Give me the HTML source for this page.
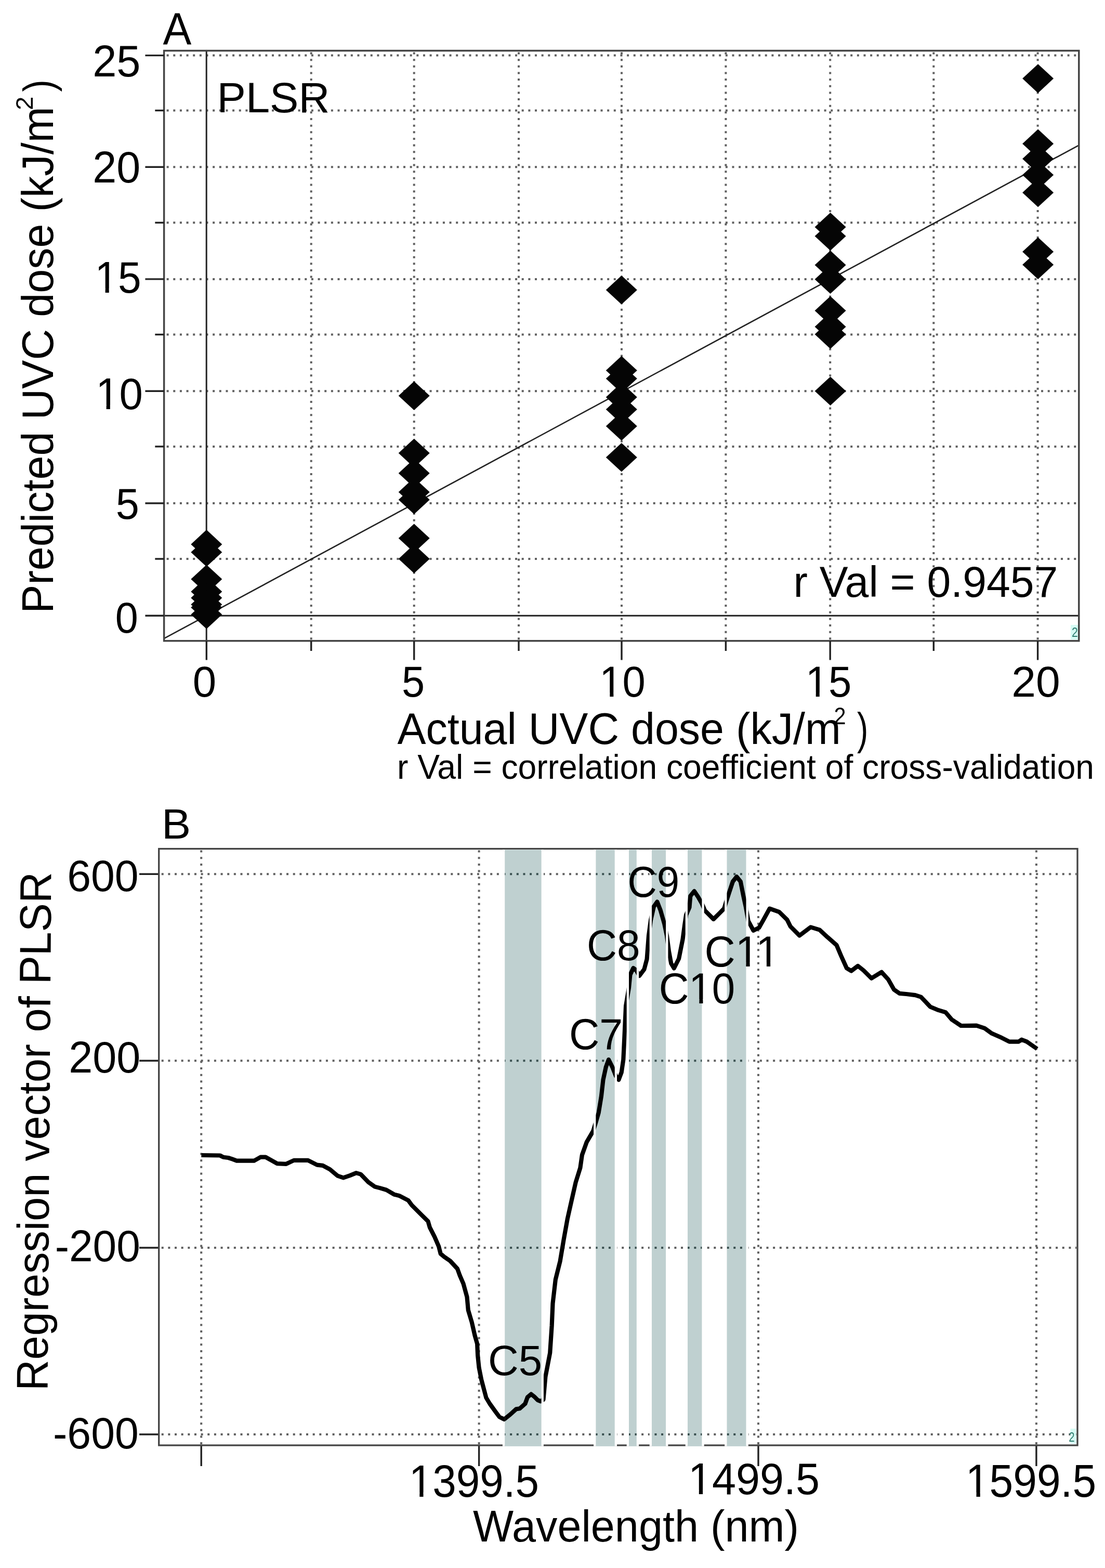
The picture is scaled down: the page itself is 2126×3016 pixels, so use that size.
<!DOCTYPE html>
<html><head><meta charset="utf-8"><title>PLSR figure</title>
<style>html,body{margin:0;padding:0;background:#fff;}svg{display:block;}text{font-family:'Liberation Sans', Arial, Helvetica, sans-serif;}</style>
</head><body>
<svg width="2126" height="3016" viewBox="0 0 2126 3016">
<rect width="2126" height="3016" fill="#fff"/>
<line x1="320.6" y1="1075.0" x2="2073.8" y2="1075.0" stroke="#606060" stroke-width="4" stroke-dasharray="4 8.65"/>
<line x1="320.6" y1="968.0" x2="2073.8" y2="968.0" stroke="#606060" stroke-width="4" stroke-dasharray="4 8.65"/>
<line x1="320.6" y1="858.9" x2="2073.8" y2="858.9" stroke="#606060" stroke-width="4" stroke-dasharray="4 8.65"/>
<line x1="320.6" y1="752.3" x2="2073.8" y2="752.3" stroke="#606060" stroke-width="4" stroke-dasharray="4 8.65"/>
<line x1="320.6" y1="643.5" x2="2073.8" y2="643.5" stroke="#606060" stroke-width="4" stroke-dasharray="4 8.65"/>
<line x1="320.6" y1="536.9" x2="2073.8" y2="536.9" stroke="#606060" stroke-width="4" stroke-dasharray="4 8.65"/>
<line x1="320.6" y1="428.3" x2="2073.8" y2="428.3" stroke="#606060" stroke-width="4" stroke-dasharray="4 8.65"/>
<line x1="320.6" y1="321.3" x2="2073.8" y2="321.3" stroke="#606060" stroke-width="4" stroke-dasharray="4 8.65"/>
<line x1="320.6" y1="212.5" x2="2073.8" y2="212.5" stroke="#606060" stroke-width="4" stroke-dasharray="4 8.65"/>
<line x1="320.6" y1="106.6" x2="2073.8" y2="106.6" stroke="#606060" stroke-width="4" stroke-dasharray="4 8.65"/>
<line x1="598.7" y1="100.5" x2="598.7" y2="1230.7" stroke="#606060" stroke-width="4" stroke-dasharray="4 8.65"/>
<line x1="796.7" y1="100.5" x2="796.7" y2="1230.7" stroke="#606060" stroke-width="4" stroke-dasharray="4 8.65"/>
<line x1="998.0" y1="100.5" x2="998.0" y2="1230.7" stroke="#606060" stroke-width="4" stroke-dasharray="4 8.65"/>
<line x1="1196.0" y1="100.5" x2="1196.0" y2="1230.7" stroke="#606060" stroke-width="4" stroke-dasharray="4 8.65"/>
<line x1="1396.4" y1="100.5" x2="1396.4" y2="1230.7" stroke="#606060" stroke-width="4" stroke-dasharray="4 8.65"/>
<line x1="1597.2" y1="100.5" x2="1597.2" y2="1230.7" stroke="#606060" stroke-width="4" stroke-dasharray="4 8.65"/>
<line x1="1796.3" y1="100.5" x2="1796.3" y2="1230.7" stroke="#606060" stroke-width="4" stroke-dasharray="4 8.65"/>
<line x1="1996.6" y1="100.5" x2="1996.6" y2="1230.7" stroke="#606060" stroke-width="4" stroke-dasharray="4 8.65"/>
<line x1="315.6" y1="1184.2" x2="2075.8" y2="1184.2" stroke="#222" stroke-width="3"/>
<line x1="397.2" y1="97.5" x2="397.2" y2="1232.7" stroke="#222" stroke-width="3"/>
<line x1="315.6" y1="1228.2" x2="2075.8" y2="279.3" stroke="#222" stroke-width="2.6"/>
<rect x="315.6" y="97.5" width="1760.2000000000003" height="1135.2" fill="none" stroke="#444" stroke-width="3.5"/>
<line x1="279.4" y1="1184.2" x2="315.6" y2="1184.2" stroke="#222" stroke-width="3.4"/>
<line x1="298.3" y1="1075.0" x2="315.6" y2="1075.0" stroke="#222" stroke-width="3.4"/>
<line x1="279.4" y1="968.0" x2="315.6" y2="968.0" stroke="#222" stroke-width="3.4"/>
<line x1="298.3" y1="858.9" x2="315.6" y2="858.9" stroke="#222" stroke-width="3.4"/>
<line x1="279.4" y1="752.3" x2="315.6" y2="752.3" stroke="#222" stroke-width="3.4"/>
<line x1="298.3" y1="643.5" x2="315.6" y2="643.5" stroke="#222" stroke-width="3.4"/>
<line x1="279.4" y1="536.9" x2="315.6" y2="536.9" stroke="#222" stroke-width="3.4"/>
<line x1="298.3" y1="428.3" x2="315.6" y2="428.3" stroke="#222" stroke-width="3.4"/>
<line x1="279.4" y1="321.3" x2="315.6" y2="321.3" stroke="#222" stroke-width="3.4"/>
<line x1="298.3" y1="212.5" x2="315.6" y2="212.5" stroke="#222" stroke-width="3.4"/>
<line x1="279.4" y1="106.6" x2="315.6" y2="106.6" stroke="#222" stroke-width="3.4"/>
<line x1="397.3" y1="1232.7" x2="397.3" y2="1269.5" stroke="#222" stroke-width="3.4"/>
<line x1="598.7" y1="1232.7" x2="598.7" y2="1252" stroke="#222" stroke-width="3.4"/>
<line x1="796.7" y1="1232.7" x2="796.7" y2="1269.5" stroke="#222" stroke-width="3.4"/>
<line x1="998.0" y1="1232.7" x2="998.0" y2="1252" stroke="#222" stroke-width="3.4"/>
<line x1="1196.0" y1="1232.7" x2="1196.0" y2="1269.5" stroke="#222" stroke-width="3.4"/>
<line x1="1396.4" y1="1232.7" x2="1396.4" y2="1252" stroke="#222" stroke-width="3.4"/>
<line x1="1597.2" y1="1232.7" x2="1597.2" y2="1269.5" stroke="#222" stroke-width="3.4"/>
<line x1="1796.3" y1="1232.7" x2="1796.3" y2="1252" stroke="#222" stroke-width="3.4"/>
<line x1="1996.6" y1="1232.7" x2="1996.6" y2="1269.5" stroke="#222" stroke-width="3.4"/>
<path d="M397.3 1019.1L427.3 1046.9L397.3 1074.7L367.3 1046.9Z" fill="#050505"/>
<path d="M397.3 1034.5L427.3 1062.3L397.3 1090.1L367.3 1062.3Z" fill="#050505"/>
<path d="M397.3 1086.2L427.3 1114.0L397.3 1141.8L367.3 1114.0Z" fill="#050505"/>
<path d="M397.3 1110.1L427.3 1137.9L397.3 1165.7L367.3 1137.9Z" fill="#050505"/>
<path d="M397.3 1122.1L427.3 1149.9L397.3 1177.7L367.3 1149.9Z" fill="#050505"/>
<path d="M397.3 1135.0L427.3 1162.8L397.3 1190.6L367.3 1162.8Z" fill="#050505"/>
<path d="M397.3 1140.8L427.3 1168.6L397.3 1196.4L367.3 1168.6Z" fill="#050505"/>
<path d="M397.3 1154.2L427.3 1182.0L397.3 1209.8L367.3 1182.0Z" fill="#050505"/>
<path d="M796.7 733.5L826.7 761.3L796.7 789.1L766.7 761.3Z" fill="#050505"/>
<path d="M796.7 843.8L826.7 871.6L796.7 899.4L766.7 871.6Z" fill="#050505"/>
<path d="M796.7 882.4L826.7 910.2L796.7 938.0L766.7 910.2Z" fill="#050505"/>
<path d="M796.7 918.7L826.7 946.5L796.7 974.3L766.7 946.5Z" fill="#050505"/>
<path d="M796.7 933.5L826.7 961.3L796.7 989.1L766.7 961.3Z" fill="#050505"/>
<path d="M796.7 1007.5L826.7 1035.3L796.7 1063.1L766.7 1035.3Z" fill="#050505"/>
<path d="M796.7 1047.1L826.7 1074.9L796.7 1102.7L766.7 1074.9Z" fill="#050505"/>
<path d="M1195.8 530.0L1225.8 557.8L1195.8 585.6L1165.8 557.8Z" fill="#050505"/>
<path d="M1195.8 684.7L1225.8 712.5L1195.8 740.3L1165.8 712.5Z" fill="#050505"/>
<path d="M1195.8 700.4L1225.8 728.2L1195.8 756.0L1165.8 728.2Z" fill="#050505"/>
<path d="M1195.8 736.1L1225.8 763.9L1195.8 791.7L1165.8 763.9Z" fill="#050505"/>
<path d="M1195.8 759.6L1225.8 787.4L1195.8 815.2L1165.8 787.4Z" fill="#050505"/>
<path d="M1195.8 791.9L1225.8 819.7L1195.8 847.5L1165.8 819.7Z" fill="#050505"/>
<path d="M1195.8 852.0L1225.8 879.8L1195.8 907.6L1165.8 879.8Z" fill="#050505"/>
<path d="M1597.6 408.9L1627.6 436.7L1597.6 464.5L1567.6 436.7Z" fill="#050505"/>
<path d="M1597.6 426.5L1627.6 454.3L1597.6 482.1L1567.6 454.3Z" fill="#050505"/>
<path d="M1597.6 482.0L1627.6 509.8L1597.6 537.6L1567.6 509.8Z" fill="#050505"/>
<path d="M1597.6 509.4L1627.6 537.2L1597.6 565.0L1567.6 537.2Z" fill="#050505"/>
<path d="M1597.6 569.8L1627.6 597.6L1597.6 625.4L1567.6 597.6Z" fill="#050505"/>
<path d="M1597.6 600.6L1627.6 628.4L1597.6 656.2L1567.6 628.4Z" fill="#050505"/>
<path d="M1597.6 615.3L1627.6 643.1L1597.6 670.9L1567.6 643.1Z" fill="#050505"/>
<path d="M1597.6 724.4L1627.6 752.2L1597.6 780.0L1567.6 752.2Z" fill="#050505"/>
<path d="M1997.1 123.3L2027.1 151.1L1997.1 178.9L1967.1 151.1Z" fill="#050505"/>
<path d="M1997.1 248.6L2027.1 276.4L1997.1 304.2L1967.1 276.4Z" fill="#050505"/>
<path d="M1997.1 277.6L2027.1 305.4L1997.1 333.2L1967.1 305.4Z" fill="#050505"/>
<path d="M1997.1 308.7L2027.1 336.5L1997.1 364.3L1967.1 336.5Z" fill="#050505"/>
<path d="M1997.1 342.7L2027.1 370.5L1997.1 398.3L1967.1 370.5Z" fill="#050505"/>
<path d="M1997.1 456.4L2027.1 484.2L1997.1 512.0L1967.1 484.2Z" fill="#050505"/>
<path d="M1997.1 481.4L2027.1 509.2L1997.1 537.0L1967.1 509.2Z" fill="#050505"/>
<text transform="translate(313.59,86.45) scale(0.9348,1)" font-size="87.94" fill="#000"  >A</text>
<text transform="translate(178.20,147.20) scale(0.9805,1)" font-size="84.60" fill="#000"  >25</text>
<text transform="translate(178.21,351.10) scale(0.9777,1)" font-size="84.60" fill="#000"  >20</text>
<mask id="m1_1" maskUnits="userSpaceOnUse" x="-20" y="-111.6" width="135.5" height="145.9"><rect x="-20" y="-111.6" width="135.5" height="145.9" fill="#fff"/><rect x="4.29" y="-7.61" width="17.29" height="9.91" fill="#000"/><rect x="29.16" y="-7.61" width="16.31" height="9.91" fill="#000"/></mask>
<text transform="translate(182.45,562.69) scale(0.9346,1)" font-size="85.82" fill="#000"  mask="url(#m1_1)">15</text>
<mask id="m1_2" maskUnits="userSpaceOnUse" x="-20" y="-111.6" width="135.5" height="146.0"><rect x="-20" y="-111.6" width="135.5" height="146.0" fill="#fff"/><rect x="4.29" y="-7.62" width="17.30" height="9.92" fill="#000"/><rect x="29.18" y="-7.62" width="16.32" height="9.92" fill="#000"/></mask>
<text transform="translate(184.13,786.59) scale(0.9490,1)" font-size="85.88" fill="#000"  mask="url(#m1_2)">10</text>
<text transform="translate(222.81,998.41) scale(0.9671,1)" font-size="83.81" fill="#000"  >5</text>
<text transform="translate(221.76,1217.22) scale(0.9527,1)" font-size="83.05" fill="#000"  >0</text>
<text transform="translate(370.67,1339.61) scale(0.9713,1)" font-size="84.04" fill="#000"  >0</text>
<text transform="translate(772.88,1339.62) scale(0.9535,1)" font-size="83.24" fill="#000"  >5</text>
<mask id="m1_3" maskUnits="userSpaceOnUse" x="-20" y="-107.8" width="132.2" height="140.9"><rect x="-20" y="-107.8" width="132.2" height="140.9" fill="#fff"/><rect x="4.15" y="-7.39" width="16.71" height="9.69" fill="#000"/><rect x="28.17" y="-7.39" width="15.75" height="9.69" fill="#000"/></mask>
<text transform="translate(1153.31,1340.12) scale(0.9595,1)" font-size="82.91" fill="#000"  mask="url(#m1_3)">10</text>
<mask id="m1_4" maskUnits="userSpaceOnUse" x="-20" y="-109.3" width="133.5" height="143.0"><rect x="-20" y="-109.3" width="133.5" height="143.0" fill="#fff"/><rect x="4.21" y="-7.48" width="16.95" height="9.78" fill="#000"/><rect x="28.58" y="-7.48" width="15.98" height="9.78" fill="#000"/></mask>
<text transform="translate(1549.70,1340.11) scale(0.9476,1)" font-size="84.10" fill="#000"  mask="url(#m1_4)">15</text>
<text transform="translate(1946.25,1340.12) scale(1.0130,1)" font-size="82.91" fill="#000"  >20</text>
<text transform="translate(417.54,216.43) scale(1.0168,1)" font-size="81.64" fill="#000"  >PLSR</text>
<text transform="translate(1526.52,1148.40) scale(0.9767,1)" font-size="84.3" fill="#000" >r Val = 0.9457</text>
<text transform="translate(764.38,1430.80) scale(0.9657,1)" font-size="85.5" fill="#000" >Actual UVC dose (kJ/m</text>
<text transform="translate(1604.48,1393.05) scale(0.8820,1)" font-size="46.99" fill="#000"  >2</text>
<text transform="translate(1648.93,1430.80) scale(0.7475,1)" font-size="85.5" fill="#000" >)</text>
<text transform="translate(764.11,1498.30) scale(0.9683,1)" font-size="66.3" fill="#000" >r Val = correlation coefficient of cross-validation</text>
<text transform="translate(102.40,1179.83) rotate(-90) scale(0.9709,1)" font-size="85.2" fill="#000">Predicted UVC dose (kJ/m</text>
<text transform="translate(62.75,212.12) rotate(-90) scale(1.0397,1)" font-size="45.56" fill="#000">2</text>
<text transform="translate(102.43,176.81) rotate(-90) scale(0.8794,1)" font-size="80.79" fill="#000">)</text>
<rect x="2060" y="1202" width="14" height="28" fill="#d6fbf4"/>
<text transform="translate(2061.89,1225.15) scale(0.8114,1)" font-size="26.22" fill="#2f7d70"  >2</text>
<line x1="310.7" y1="1681.2" x2="2071.0" y2="1681.2" stroke="#606060" stroke-width="4" stroke-dasharray="4 8.65"/>
<line x1="268" y1="1681.2" x2="305.7" y2="1681.2" stroke="#222" stroke-width="3.4"/>
<line x1="310.7" y1="2040.2" x2="2071.0" y2="2040.2" stroke="#606060" stroke-width="4" stroke-dasharray="4 8.65"/>
<line x1="268" y1="2040.2" x2="305.7" y2="2040.2" stroke="#222" stroke-width="3.4"/>
<line x1="310.7" y1="2400.0" x2="2071.0" y2="2400.0" stroke="#606060" stroke-width="4" stroke-dasharray="4 8.65"/>
<line x1="268" y1="2400.0" x2="305.7" y2="2400.0" stroke="#222" stroke-width="3.4"/>
<line x1="310.7" y1="2759.0" x2="2071.0" y2="2759.0" stroke="#606060" stroke-width="4" stroke-dasharray="4 8.65"/>
<line x1="268" y1="2759.0" x2="305.7" y2="2759.0" stroke="#222" stroke-width="3.4"/>
<line x1="387.2" y1="1635.6" x2="387.2" y2="2778.0" stroke="#606060" stroke-width="4" stroke-dasharray="4 8.65"/>
<line x1="387.2" y1="2780.0" x2="387.2" y2="2820" stroke="#222" stroke-width="3.4"/>
<line x1="921.6" y1="1635.6" x2="921.6" y2="2778.0" stroke="#606060" stroke-width="4" stroke-dasharray="4 8.65"/>
<line x1="921.6" y1="2780.0" x2="921.6" y2="2820" stroke="#222" stroke-width="3.4"/>
<line x1="1459.0" y1="1635.6" x2="1459.0" y2="2778.0" stroke="#606060" stroke-width="4" stroke-dasharray="4 8.65"/>
<line x1="1459.0" y1="2780.0" x2="1459.0" y2="2820" stroke="#222" stroke-width="3.4"/>
<line x1="1993.9" y1="1635.6" x2="1993.9" y2="2778.0" stroke="#606060" stroke-width="4" stroke-dasharray="4 8.65"/>
<line x1="1993.9" y1="2780.0" x2="1993.9" y2="2820" stroke="#222" stroke-width="3.4"/>
<rect x="305.7" y="1632.6" width="1767.3" height="1147.4" fill="none" stroke="#444" stroke-width="3.3"/>
<defs><clipPath id="bandclip"><rect x="971.2" y="1634.3" width="70.4" height="1147.5"/><rect x="1146.4" y="1634.3" width="36.3" height="1147.5"/><rect x="1210.0" y="1634.3" width="14.8" height="1147.5"/><rect x="1254.0" y="1634.3" width="27.1" height="1147.5"/><rect x="1323.0" y="1634.3" width="27.4" height="1147.5"/><rect x="1398.5" y="1634.3" width="37.0" height="1147.5"/></clipPath></defs>
<rect x="966.9" y="1634.3" width="4.3" height="1147.5" fill="#fff"/>
<path d="M387.4 2222.0 L423.3 2222.5 L429.4 2225.7 L439.3 2227.0 L446.7 2229.4 L455.4 2232.7 L488.8 2232.7 L501.1 2225.7 L511.0 2225.7 L533.3 2238.1 L550.6 2238.8 L565.4 2231.9 L592.6 2231.9 L609.9 2240.6 L621.0 2241.8 L634.6 2249.2 L649.5 2261.6 L660.6 2265.3 L673.0 2261.1 L685.3 2256.1 L694.0 2258.6 L708.8 2273.9 L721.2 2282.6 L731.0 2285.1 L743.4 2288.8 L758.2 2297.4 L768.1 2299.9 L785.4 2308.8 L792.3 2318.1 L813.1 2338.9 L823.5 2349.2 L826.9 2360.8 L836.2 2379.2 L844.2 2397.7 L847.7 2411.5 L854.6 2417.3 L866.2 2425.4 L880.0 2440.4 L884.6 2453.1 L891.5 2469.2 L898.5 2494.6 L900.8 2520.0 L907.7 2543.1 L913.5 2568.5 L918.1 2584.6 L919.2 2607.7 L921.6 2630.8 L926.2 2653.9 L935.4 2688.5 L942.3 2700.0 L953.9 2716.2 L960.8 2725.4 L970.0 2730.0 L981.6 2720.8 L993.1 2710.4 L1000.0 2709.3 L1010.4 2700.0 L1015.0 2687.3 L1021.9 2681.6 L1027.7 2686.2 L1034.6 2693.1 L1040.4 2695.4 L1045.5 2692.0 L1049.4 2648.2 L1058.2 2602.3 L1061.7 2549.4 L1063.5 2507.1 L1068.8 2461.3 L1077.6 2426.0 L1084.7 2383.7 L1091.7 2344.9 L1098.8 2313.2 L1107.6 2274.4 L1116.4 2246.2 L1119.9 2221.5 L1128.7 2196.8 L1141.1 2175.7 L1146.0 2160.0 L1151.7 2140.4 L1156.9 2108.7 L1160.5 2076.9 L1165.8 2052.3 L1171.0 2038.2 L1178.1 2052.3 L1185.1 2069.9 L1190.4 2076.9 L1195.7 2062.8 L1199.3 2038.2 L1201.5 1992.5 L1204.1 1935.0 L1210.0 1900.0 L1212.4 1875.0 L1218.5 1862.0 L1224.0 1866.0 L1230.0 1877.0 L1239.4 1864.5 L1244.6 1844.9 L1248.0 1800.0 L1252.0 1770.0 L1257.9 1743.8 L1264.4 1734.6 L1270.9 1751.3 L1278.3 1777.2 L1283.0 1800.0 L1287.0 1830.0 L1291.3 1853.2 L1296.8 1862.5 L1306.1 1844.0 L1313.5 1806.9 L1317.2 1779.1 L1320.0 1760.0 L1326.5 1745.0 L1328.3 1723.4 L1335.8 1714.2 L1343.2 1725.3 L1350.6 1738.3 L1356.2 1751.3 L1372.8 1768.0 L1384.0 1756.8 L1393.2 1747.5 L1397.0 1735.0 L1402.5 1717.9 L1409.9 1695.6 L1417.3 1686.4 L1424.8 1695.6 L1430.3 1723.4 L1435.0 1745.0 L1439.7 1771.4 L1449.5 1789.8 L1460.3 1784.4 L1468.9 1769.2 L1480.8 1747.6 L1499.2 1754.1 L1514.4 1769.2 L1520.9 1782.2 L1538.2 1799.5 L1559.8 1783.3 L1577.1 1788.7 L1592.2 1802.7 L1609.5 1817.9 L1618.2 1838.4 L1629.0 1862.2 L1637.7 1867.6 L1650.6 1857.9 L1661.5 1866.6 L1676.6 1881.7 L1696.1 1869.8 L1709.0 1883.9 L1719.9 1903.3 L1730.7 1910.9 L1743.6 1912.0 L1761.0 1914.1 L1771.9 1917.6 L1789.7 1936.4 L1803.5 1942.3 L1819.3 1947.2 L1831.2 1961.1 L1849.0 1973.0 L1878.7 1972.6 L1894.5 1977.9 L1908.3 1987.8 L1924.2 1994.7 L1942.0 2003.6 L1959.8 2003.6 L1965.7 1999.7 L1975.6 2003.6 L1995.4 2017.5" fill="none" stroke="#000" stroke-width="8.2" stroke-linejoin="round" stroke-linecap="butt"/>
<rect x="971.2" y="1634.3" width="74.7" height="1147.5" fill="#fff"/>
<rect x="971.2" y="1634.3" width="70.4" height="1147.5" fill="#bfd0d0"/>
<rect x="1142.1" y="1634.3" width="44.9" height="1147.5" fill="#fff"/>
<rect x="1146.4" y="1634.3" width="36.3" height="1147.5" fill="#bfd0d0"/>
<rect x="1205.7" y="1634.3" width="23.4" height="1147.5" fill="#fff"/>
<rect x="1210.0" y="1634.3" width="14.8" height="1147.5" fill="#bfd0d0"/>
<rect x="1249.7" y="1634.3" width="35.7" height="1147.5" fill="#fff"/>
<rect x="1254.0" y="1634.3" width="27.1" height="1147.5" fill="#bfd0d0"/>
<rect x="1318.7" y="1634.3" width="36.0" height="1147.5" fill="#fff"/>
<rect x="1323.0" y="1634.3" width="27.4" height="1147.5" fill="#bfd0d0"/>
<rect x="1394.2" y="1634.3" width="45.6" height="1147.5" fill="#fff"/>
<rect x="1398.5" y="1634.3" width="37.0" height="1147.5" fill="#bfd0d0"/>
<g clip-path="url(#bandclip)"><line x1="310.7" y1="1681.2" x2="2071.0" y2="1681.2" stroke="#3a5050" stroke-width="4" stroke-dasharray="4 8.65"/><line x1="310.7" y1="2040.2" x2="2071.0" y2="2040.2" stroke="#3a5050" stroke-width="4" stroke-dasharray="4 8.65"/><line x1="310.7" y1="2400.0" x2="2071.0" y2="2400.0" stroke="#3a5050" stroke-width="4" stroke-dasharray="4 8.65"/><line x1="310.7" y1="2759.0" x2="2071.0" y2="2759.0" stroke="#3a5050" stroke-width="4" stroke-dasharray="4 8.65"/><path d="M387.4 2222.0 L423.3 2222.5 L429.4 2225.7 L439.3 2227.0 L446.7 2229.4 L455.4 2232.7 L488.8 2232.7 L501.1 2225.7 L511.0 2225.7 L533.3 2238.1 L550.6 2238.8 L565.4 2231.9 L592.6 2231.9 L609.9 2240.6 L621.0 2241.8 L634.6 2249.2 L649.5 2261.6 L660.6 2265.3 L673.0 2261.1 L685.3 2256.1 L694.0 2258.6 L708.8 2273.9 L721.2 2282.6 L731.0 2285.1 L743.4 2288.8 L758.2 2297.4 L768.1 2299.9 L785.4 2308.8 L792.3 2318.1 L813.1 2338.9 L823.5 2349.2 L826.9 2360.8 L836.2 2379.2 L844.2 2397.7 L847.7 2411.5 L854.6 2417.3 L866.2 2425.4 L880.0 2440.4 L884.6 2453.1 L891.5 2469.2 L898.5 2494.6 L900.8 2520.0 L907.7 2543.1 L913.5 2568.5 L918.1 2584.6 L919.2 2607.7 L921.6 2630.8 L926.2 2653.9 L935.4 2688.5 L942.3 2700.0 L953.9 2716.2 L960.8 2725.4 L970.0 2730.0 L981.6 2720.8 L993.1 2710.4 L1000.0 2709.3 L1010.4 2700.0 L1015.0 2687.3 L1021.9 2681.6 L1027.7 2686.2 L1034.6 2693.1 L1040.4 2695.4 L1045.5 2692.0 L1049.4 2648.2 L1058.2 2602.3 L1061.7 2549.4 L1063.5 2507.1 L1068.8 2461.3 L1077.6 2426.0 L1084.7 2383.7 L1091.7 2344.9 L1098.8 2313.2 L1107.6 2274.4 L1116.4 2246.2 L1119.9 2221.5 L1128.7 2196.8 L1141.1 2175.7 L1146.0 2160.0 L1151.7 2140.4 L1156.9 2108.7 L1160.5 2076.9 L1165.8 2052.3 L1171.0 2038.2 L1178.1 2052.3 L1185.1 2069.9 L1190.4 2076.9 L1195.7 2062.8 L1199.3 2038.2 L1201.5 1992.5 L1204.1 1935.0 L1210.0 1900.0 L1212.4 1875.0 L1218.5 1862.0 L1224.0 1866.0 L1230.0 1877.0 L1239.4 1864.5 L1244.6 1844.9 L1248.0 1800.0 L1252.0 1770.0 L1257.9 1743.8 L1264.4 1734.6 L1270.9 1751.3 L1278.3 1777.2 L1283.0 1800.0 L1287.0 1830.0 L1291.3 1853.2 L1296.8 1862.5 L1306.1 1844.0 L1313.5 1806.9 L1317.2 1779.1 L1320.0 1760.0 L1326.5 1745.0 L1328.3 1723.4 L1335.8 1714.2 L1343.2 1725.3 L1350.6 1738.3 L1356.2 1751.3 L1372.8 1768.0 L1384.0 1756.8 L1393.2 1747.5 L1397.0 1735.0 L1402.5 1717.9 L1409.9 1695.6 L1417.3 1686.4 L1424.8 1695.6 L1430.3 1723.4 L1435.0 1745.0 L1439.7 1771.4 L1449.5 1789.8 L1460.3 1784.4 L1468.9 1769.2 L1480.8 1747.6 L1499.2 1754.1 L1514.4 1769.2 L1520.9 1782.2 L1538.2 1799.5 L1559.8 1783.3 L1577.1 1788.7 L1592.2 1802.7 L1609.5 1817.9 L1618.2 1838.4 L1629.0 1862.2 L1637.7 1867.6 L1650.6 1857.9 L1661.5 1866.6 L1676.6 1881.7 L1696.1 1869.8 L1709.0 1883.9 L1719.9 1903.3 L1730.7 1910.9 L1743.6 1912.0 L1761.0 1914.1 L1771.9 1917.6 L1789.7 1936.4 L1803.5 1942.3 L1819.3 1947.2 L1831.2 1961.1 L1849.0 1973.0 L1878.7 1972.6 L1894.5 1977.9 L1908.3 1987.8 L1924.2 1994.7 L1942.0 2003.6 L1959.8 2003.6 L1965.7 1999.7 L1975.6 2003.6 L1995.4 2017.5" fill="none" stroke="#000" stroke-width="8.2" stroke-linejoin="round" stroke-linecap="butt"/></g>
<text transform="translate(311.06,1613.45) scale(1.0290,1)" font-size="81.69" fill="#000"  >B</text>
<text transform="translate(129.23,1713.80) scale(0.9675,1)" font-size="85.17" fill="#000"  >600</text>
<text transform="translate(132.31,2062.59) scale(0.9608,1)" font-size="86.16" fill="#000"  >200</text>
<text transform="translate(105.64,2425.69) scale(0.9536,1)" font-size="86.02" fill="#000"  >-200</text>
<text transform="translate(101.93,2786.30) scale(0.9667,1)" font-size="85.17" fill="#000"  >-600</text>
<mask id="m1_5" maskUnits="userSpaceOnUse" x="-20" y="-113.3" width="306.6" height="148.2"><rect x="-20" y="-113.3" width="306.6" height="148.2" fill="#fff"/><rect x="4.36" y="-7.71" width="17.56" height="10.01" fill="#000"/><rect x="29.61" y="-7.71" width="16.56" height="10.01" fill="#000"/></mask>
<text transform="translate(786.69,2878.88) scale(0.9393,1)" font-size="87.15" fill="#000"  mask="url(#m1_5)">1399.5</text>
<mask id="m1_6" maskUnits="userSpaceOnUse" x="-20" y="-110.2" width="299.2" height="144.1"><rect x="-20" y="-110.2" width="299.2" height="144.1" fill="#fff"/><rect x="4.24" y="-7.53" width="17.08" height="9.83" fill="#000"/><rect x="28.80" y="-7.53" width="16.10" height="9.83" fill="#000"/></mask>
<text transform="translate(1324.01,2873.70) scale(0.9764,1)" font-size="84.75" fill="#000"  mask="url(#m1_6)">1499.5</text>
<mask id="m1_7" maskUnits="userSpaceOnUse" x="-20" y="-114.9" width="310.4" height="150.3"><rect x="-20" y="-114.9" width="310.4" height="150.3" fill="#fff"/><rect x="4.42" y="-7.80" width="17.82" height="10.10" fill="#000"/><rect x="30.05" y="-7.80" width="16.80" height="10.10" fill="#000"/></mask>
<text transform="translate(1857.87,2878.87) scale(0.9289,1)" font-size="88.42" fill="#000"  mask="url(#m1_7)">1599.5</text>
<text transform="translate(909.92,2965.30) scale(0.9684,1)" font-size="85.5" fill="#000" >Wavelength (nm)</text>
<text transform="translate(91.40,2675.34) rotate(-89.59) scale(0.9678,1)" font-size="85.5" fill="#000">Regression vector of PLSR</text>
<text transform="translate(938.98,2645.44) scale(1.0038,1)" font-size="81.07" fill="#000"  >C5</text>
<text transform="translate(1095.01,2017.72) scale(0.9764,1)" font-size="82.77" fill="#000"  >C7</text>
<text transform="translate(1129.04,1846.61) scale(0.9582,1)" font-size="83.76" fill="#000"  >C8</text>
<text transform="translate(1207.45,1724.62) scale(0.9406,1)" font-size="82.91" fill="#000"  >C9</text>
<mask id="m1_8" maskUnits="userSpaceOnUse" x="-20" y="-107.8" width="192.1" height="140.9"><rect x="-20" y="-107.8" width="192.1" height="140.9" fill="#fff"/><rect x="64.02" y="-7.39" width="16.71" height="9.69" fill="#000"/><rect x="88.05" y="-7.39" width="15.75" height="9.69" fill="#000"/></mask>
<text transform="translate(1267.66,1929.52) scale(0.9630,1)" font-size="82.91" fill="#000"  mask="url(#m1_8)">C10</text>
<mask id="m1_9" maskUnits="userSpaceOnUse" x="-20" y="-109.6" width="188.4" height="143.3"><rect x="-20" y="-109.6" width="188.4" height="143.3" fill="#fff"/><rect x="65.11" y="-7.50" width="16.99" height="9.80" fill="#000"/><rect x="89.55" y="-7.50" width="16.02" height="9.80" fill="#000"/><rect x="105.75" y="-7.50" width="16.99" height="9.80" fill="#000"/><rect x="130.18" y="-7.50" width="16.02" height="9.80" fill="#000"/></mask>
<text transform="translate(1355.55,1859.11) scale(0.9726,1)" font-size="84.32" fill="#000"  mask="url(#m1_9)">C11</text>
<rect x="2059.5" y="2748" width="11" height="29" fill="#d6fbf4"/>
<text transform="translate(2056.33,2772.65) scale(0.7779,1)" font-size="26.22" fill="#2f7d70"  >2</text>
</svg>
</body></html>
